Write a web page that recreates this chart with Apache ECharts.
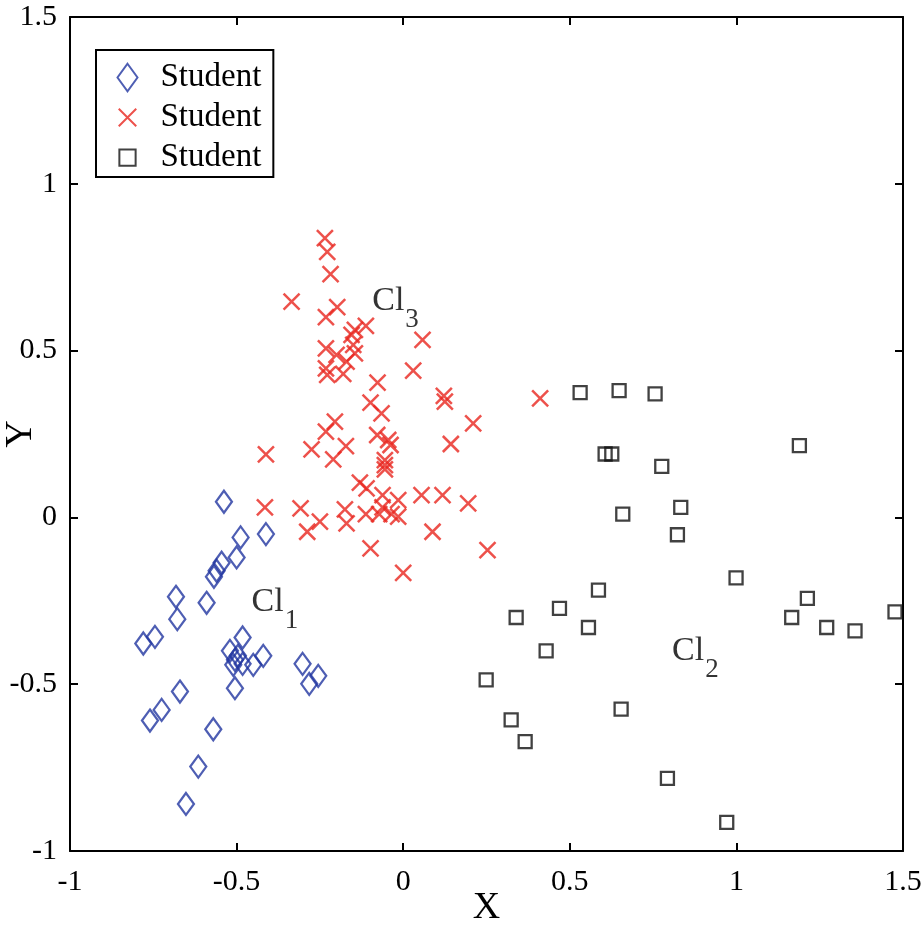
<!DOCTYPE html>
<html><head><meta charset="utf-8">
<script src="https://cdn.jsdelivr.net/npm/echarts@6/dist/echarts.min.js"></script>
<style>html,body{margin:0;padding:0;background:#fff}#c{width:921px;height:929px}</style>
</head><body><div id="c"></div>
<script>
const xTicks = [-1, -0.5, 0, 0.5, 1, 1.5];
const yTicks = [-1, -0.5, 0, 0.5, 1, 1.5];
const legendNames = ['Student', 'Student', 'Student'];

const cluster1 = [[-0.538,0.047],[-0.412,-0.050],[-0.488,-0.060],[-0.500,-0.120],[-0.545,-0.136],[-0.560,-0.160],[-0.568,-0.178],[-0.682,-0.238],[-0.590,-0.256],[-0.678,-0.305],[-0.745,-0.358],[-0.780,-0.378],[-0.482,-0.360],[-0.520,-0.400],[-0.420,-0.415],[-0.505,-0.427],[-0.496,-0.415],[-0.450,-0.442],[-0.482,-0.439],[-0.510,-0.442],[-0.302,-0.439],[-0.255,-0.475],[-0.282,-0.499],[-0.505,-0.512],[-0.670,-0.522],[-0.725,-0.577],[-0.760,-0.609],[-0.570,-0.635],[-0.615,-0.747],[-0.652,-0.859]];

const cluster3 = [[-0.235,0.837],[-0.228,0.796],[-0.218,0.729],[-0.335,0.647],[-0.198,0.630],[-0.232,0.600],[-0.112,0.574],[-0.145,0.562],[-0.155,0.547],[0.058,0.532],[-0.150,0.517],[-0.232,0.507],[-0.200,0.487],[-0.145,0.492],[-0.170,0.467],[-0.232,0.447],[-0.180,0.430],[0.030,0.440],[-0.228,0.427],[-0.077,0.404],[0.122,0.364],[0.125,0.347],[0.411,0.357],[-0.098,0.344],[-0.065,0.312],[0.210,0.282],[-0.205,0.287],[-0.232,0.257],[-0.078,0.247],[-0.045,0.232],[-0.038,0.217],[0.143,0.220],[-0.172,0.214],[-0.275,0.204],[-0.412,0.189],[-0.210,0.174],[-0.055,0.172],[-0.055,0.157],[-0.055,0.144],[-0.130,0.104],[-0.110,0.087],[0.055,0.067],[0.118,0.067],[-0.062,0.067],[-0.015,0.052],[0.195,0.042],[-0.415,0.030],[-0.308,0.027],[-0.175,0.024],[-0.062,0.030],[-0.112,0.010],[-0.072,0.010],[-0.035,0.010],[-0.015,0.002],[-0.250,-0.013],[-0.170,-0.018],[-0.288,-0.043],[0.088,-0.043],[-0.098,-0.093],[0.253,-0.098],[0.000,-0.166]];

const cluster2 = [[0.531,0.374],[0.648,0.380],[0.756,0.370],[0.606,0.190],[0.626,0.190],[1.189,0.215],[0.776,0.153],[0.833,0.030],[0.659,0.010],[0.823,-0.052],[0.999,-0.181],[0.586,-0.218],[1.213,-0.243],[0.469,-0.273],[0.339,-0.300],[1.166,-0.300],[0.556,-0.330],[1.271,-0.330],[1.356,-0.340],[1.476,-0.283],[0.429,-0.400],[0.249,-0.487],[0.654,-0.575],[0.324,-0.607],[0.366,-0.672],[0.793,-0.782],[0.971,-0.914]];

const clusterLabels = [[-0.455,-0.277,'1'],[-0.093,0.625,'3'],[0.807,-0.424,'2']];

const FONT = '"Liberation Serif","Times New Roman",serif';
const BLUE = '#2236a0', RED = '#e8261e', BLACK = '#111';
const crossPath = 'path://M0,0L10,10M10,0L0,10';
const legDiamond = 'path://M0,0M24,24M12,1L20,12L12,23L4,12Z';
const legCross = 'path://M0,0M24,24M5,5L19,19M19,5L5,19';
const legSquare = 'path://M0,0M24,24M5.5,5.5H18.5V18.5H5.5Z';

const chart = echarts.init(document.getElementById('c'), null, {renderer:'canvas'});
const axisCommon = {
  type:'value', min:-1, max:1.5, interval:0.5,
  axisLine:{show:true, onZero:false, lineStyle:{color:'#000', width:2}},
  axisTick:{show:true, inside:true, length:8, lineStyle:{color:'#000', width:2}},
  splitLine:{show:false}
};
chart.setOption({
  animation:false,
  backgroundColor:'#fff',
  grid:{left:70, right:18, top:17, bottom:78, containLabel:false, outerBoundsMode:'none'},
  legend:{
    left:96, top:50, orient:'vertical',
    backgroundColor:'#fff', borderColor:'#000', borderWidth:2, borderRadius:0,
    padding:[10,12,2,14], itemGap:5, itemWidth:56, itemHeight:30, symbolKeepAspect:true,
    textStyle:{fontFamily:FONT, fontSize:33, color:'#000'},
    data:[
      {name:'s1', icon:legDiamond, itemStyle:{color:'none', borderColor:BLUE, borderWidth:2}},
      {name:'s3', icon:legCross, itemStyle:{color:'none', borderColor:RED, borderWidth:2}},
      {name:'s2', icon:legSquare, itemStyle:{color:'none', borderColor:BLACK, borderWidth:2}}
    ],
    formatter:function(n){ return n==='s1'?legendNames[0]:(n==='s3'?legendNames[1]:legendNames[2]); }
  },
  xAxis:[
    Object.assign({}, axisCommon, {position:'bottom', name:'X', nameLocation:'middle', nameGap:38, nameMoveOverlap:false,
      nameTextStyle:{fontFamily:FONT, fontSize:38, color:'#000'},
      axisLabel:{show:true, margin:16, fontFamily:FONT, fontSize:30, color:'#000',
        formatter:function(v){ return xTicks.indexOf(v)>=0 ? String(v) : ''; }}}),
    Object.assign({}, axisCommon, {position:'top', axisLabel:{show:false}})
  ],
  yAxis:[
    Object.assign({}, axisCommon, {position:'left', name:'Y', nameLocation:'middle', nameGap:30, nameMoveOverlap:false,
      nameTextStyle:{fontFamily:FONT, fontSize:38, color:'#000'},
      axisLabel:{show:true, margin:13, fontFamily:FONT, fontSize:30, color:'#000',
        formatter:function(v){ return yTicks.indexOf(v)>=0 ? String(v) : ''; }}}),
    Object.assign({}, axisCommon, {position:'right', axisLabel:{show:false}})
  ],
  series:[
    {name:'s1', type:'scatter', data:cluster1, symbol:'diamond', symbolSize:[16,22],
      itemStyle:{color:'none', borderColor:BLUE, borderWidth:2.3}},
    {name:'s3', type:'scatter', data:cluster3, symbol:crossPath, symbolSize:16,
      itemStyle:{color:'none', borderColor:RED, borderWidth:2.5}},
    {name:'s2', type:'scatter', data:cluster2, symbol:'rect', symbolSize:13,
      itemStyle:{color:'none', borderColor:BLACK, borderWidth:2.3}},
    {name:'labels', type:'scatter', data:clusterLabels, symbolSize:0, silent:true,
      label:{show:true, position:'right', distance:0,
        formatter:function(p){ return '{a|Cl}{b|'+p.data[2]+'}'; },
        rich:{a:{fontFamily:FONT, fontSize:34, color:'#000', verticalAlign:'top'},
              b:{fontFamily:FONT, fontSize:27, color:'#000', padding:[22,0,0,1]}}}}
  ]
});
</script></body></html>
